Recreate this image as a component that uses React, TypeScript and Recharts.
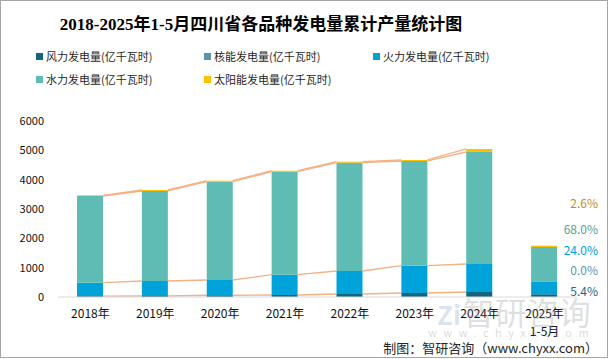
import { Bar, ComposedChart, XAxis, YAxis } from 'recharts';

const categories = ['2018年', '2019年', '2020年', '2021年', '2022年', '2023年', '2024年', '2025年1-5月'];
const wind = [30, 34, 60, 68, 102, 136, 170, 94];
const nuclear = [0, 0, 0, 0, 0, 0, 0, 0];
const thermal = [458, 511, 520, 693, 784, 931, 955, 420];
const hydro = [2955, 3069, 3352, 3511, 3694, 3570, 3818, 1190];
const solar = [24, 34, 34, 34, 33, 34, 103, 45];
const yTicks = [0, 1000, 2000, 3000, 4000, 5000, 6000];
// share of each source in the latest period, top to bottom as printed
const shareLabels = ['2.6%', '68.0%', '24.0%', '0.0%', '5.4%'];

const series = [
  { key: 'wind', name: '风力发电量(亿千瓦时)', color: '#13657f', values: wind },
  { key: 'nuclear', name: '核能发电量(亿千瓦时)', color: '#5b93aa', values: nuclear },
  { key: 'thermal', name: '火力发电量(亿千瓦时)', color: '#00a2da', values: thermal },
  { key: 'hydro', name: '水力发电量(亿千瓦时)', color: '#5fbcb4', values: hydro },
  { key: 'solar', name: '太阳能发电量(亿千瓦时)', color: '#ffc000', values: solar },
];

const shareColors = ['#c78a1c', '#4fa39c', '#00a0dc', '#5f93ac', '#1c6a88'];

const SANS = '"Noto Sans CJK SC", "Noto Sans", sans-serif';

const CHART_W = 609;
const CHART_H = 359;
const MARGIN = { top: 121, right: 32, left: 0, bottom: 32 };
const Y_AXIS_W = 58;
// width of one category band, used to reach the next column
const BAND = (CHART_W - MARGIN.right - MARGIN.left - Y_AXIS_W) / categories.length;

const data = categories.map((cat, i) => {
  const row: Record<string, string | number> = { category: cat };
  series.forEach((s) => {
    row[s.key] = s.values[i];
  });
  return row;
});

// cumulative top of each series per category
const cumulative = series.map((_, si) =>
  categories.map((__, ci) => series.slice(0, si + 1).reduce((sum, s) => sum + s.values[ci], 0)),
);

// bar segment plus the Excel-style series line joining it to the next yearly column
function makeSegment(seriesIndex: number, color: string) {
  return (props: any) => {
    const { x, y, width, height, index, value } = props;
    const low = Array.isArray(value) ? value[0] : 0;
    const high = Array.isArray(value) ? value[1] : value;
    let link = null;
    // last column is a partial year and is not joined
    if (height > 0 && high > low && index < categories.length - 2) {
      const ppu = height / (high - low);
      const zeroY = y + height + low * ppu;
      const nextY = zeroY - cumulative[seriesIndex][index + 1] * ppu;
      link = (
        <line
          x1={x + width}
          y1={y}
          x2={x + BAND}
          y2={nextY}
          stroke="#f4b183"
          strokeWidth={1.3}
        />
      );
    }
    return (
      <g>
        {height > 0 && <rect x={x} y={y} width={width} height={height} fill={color} />}
        {link}
      </g>
    );
  };
}

function CategoryTick({ x, y, payload }: any) {
  const value: string = payload.value;
  const year = value.slice(0, 5);
  const rest = value.slice(5);
  return (
    <text x={x} y={y} textAnchor="middle" fontSize={12} fill="#111" fontFamily={SANS}>
      <tspan x={x} dy={19}>
        {year}
      </tspan>
      {rest && (
        <tspan x={x} dy={18}>
          {rest}
        </tspan>
      )}
    </text>
  );
}

export default function App() {
  return (
    <div
      style={{
        position: 'absolute',
        left: 0,
        top: 0,
        width: CHART_W,
        height: CHART_H,
        background: '#fff',
        fontFamily: SANS,
      }}
    >
      <ComposedChart width={CHART_W} height={CHART_H} data={data} margin={MARGIN} barSize={26}>
        <XAxis
          dataKey="category"
          height={30}
          interval={0}
          tickLine={false}
          tickSize={0}
          axisLine={{ stroke: '#d9d9d9', strokeWidth: 1 }}
          tick={<CategoryTick />}
        />
        <YAxis
          width={Y_AXIS_W}
          domain={[0, 6000]}
          ticks={yTicks}
          tickLine={false}
          tickSize={0}
          tickMargin={14}
          axisLine={false}
          tick={{ fontSize: 11, fill: '#111', fontFamily: SANS }}
        />
        {series.map((s, si) => (
          <Bar
            key={s.key}
            dataKey={s.key}
            stackId="a"
            fill={s.color}
            shape={makeSegment(si, s.color)}
            isAnimationActive={false}
          />
        ))}
      </ComposedChart>

      <div
        style={{
          position: 'absolute',
          left: 0,
          top: 10,
          width: 522,
          textAlign: 'center',
          fontFamily: '"Liberation Serif", "Noto Sans CJK SC", serif',
          fontWeight: 'bold',
          fontSize: 17,
          color: '#000',
        }}
      >
        2018-2025年1-5月四川省各品种发电量累计产量统计图
      </div>

      {series.map((s, i) => (
        <div
          key={s.key}
          style={{
            position: 'absolute',
            left: [36, 204, 373][i % 3],
            top: i < 3 ? 48 : 71,
            display: 'flex',
            alignItems: 'center',
            fontSize: 11,
            color: '#262626',
            whiteSpace: 'nowrap',
          }}
        >
          <span style={{ display: 'inline-block', width: 7, height: 7, background: s.color, marginRight: 3 }} />
          {s.name}
        </div>
      ))}

      {shareLabels.map((t, i) => (
        <div
          key={t}
          style={{
            position: 'absolute',
            right: 11,
            top: [194, 220, 241, 261, 282][i],
            fontSize: 12,
            color: shareColors[i],
          }}
        >
          {t}
        </div>
      ))}

      <div
        style={{
          position: 'absolute',
          left: 437,
          top: 288,
          fontSize: 32,
          color: 'rgba(150,155,160,0.32)',
          whiteSpace: 'nowrap',
          pointerEvents: 'none',
        }}
      >
        <span style={{ color: 'rgba(120,160,200,0.28)', fontWeight: 'bold', fontSize: 26, marginRight: 2 }}>Zi</span>
        智研咨询
      </div>
      <div
        style={{
          position: 'absolute',
          left: 428,
          top: 324,
          fontSize: 11,
          letterSpacing: 6.5,
          color: 'rgba(150,150,150,0.35)',
          whiteSpace: 'nowrap',
          pointerEvents: 'none',
        }}
      >
        www.chyxx.com
      </div>

      <div style={{ position: 'absolute', right: 11, top: 338, fontSize: 13, color: '#262626', whiteSpace: 'nowrap' }}>
        制图：智研咨询（www.chyxx.com）
      </div>

      <div
        style={{
          position: 'absolute',
          left: 0,
          top: 0,
          width: 608,
          height: 358,
          border: '1px solid #a6a6a6',
          boxSizing: 'border-box',
          pointerEvents: 'none',
        }}
      />
    </div>
  );
}
